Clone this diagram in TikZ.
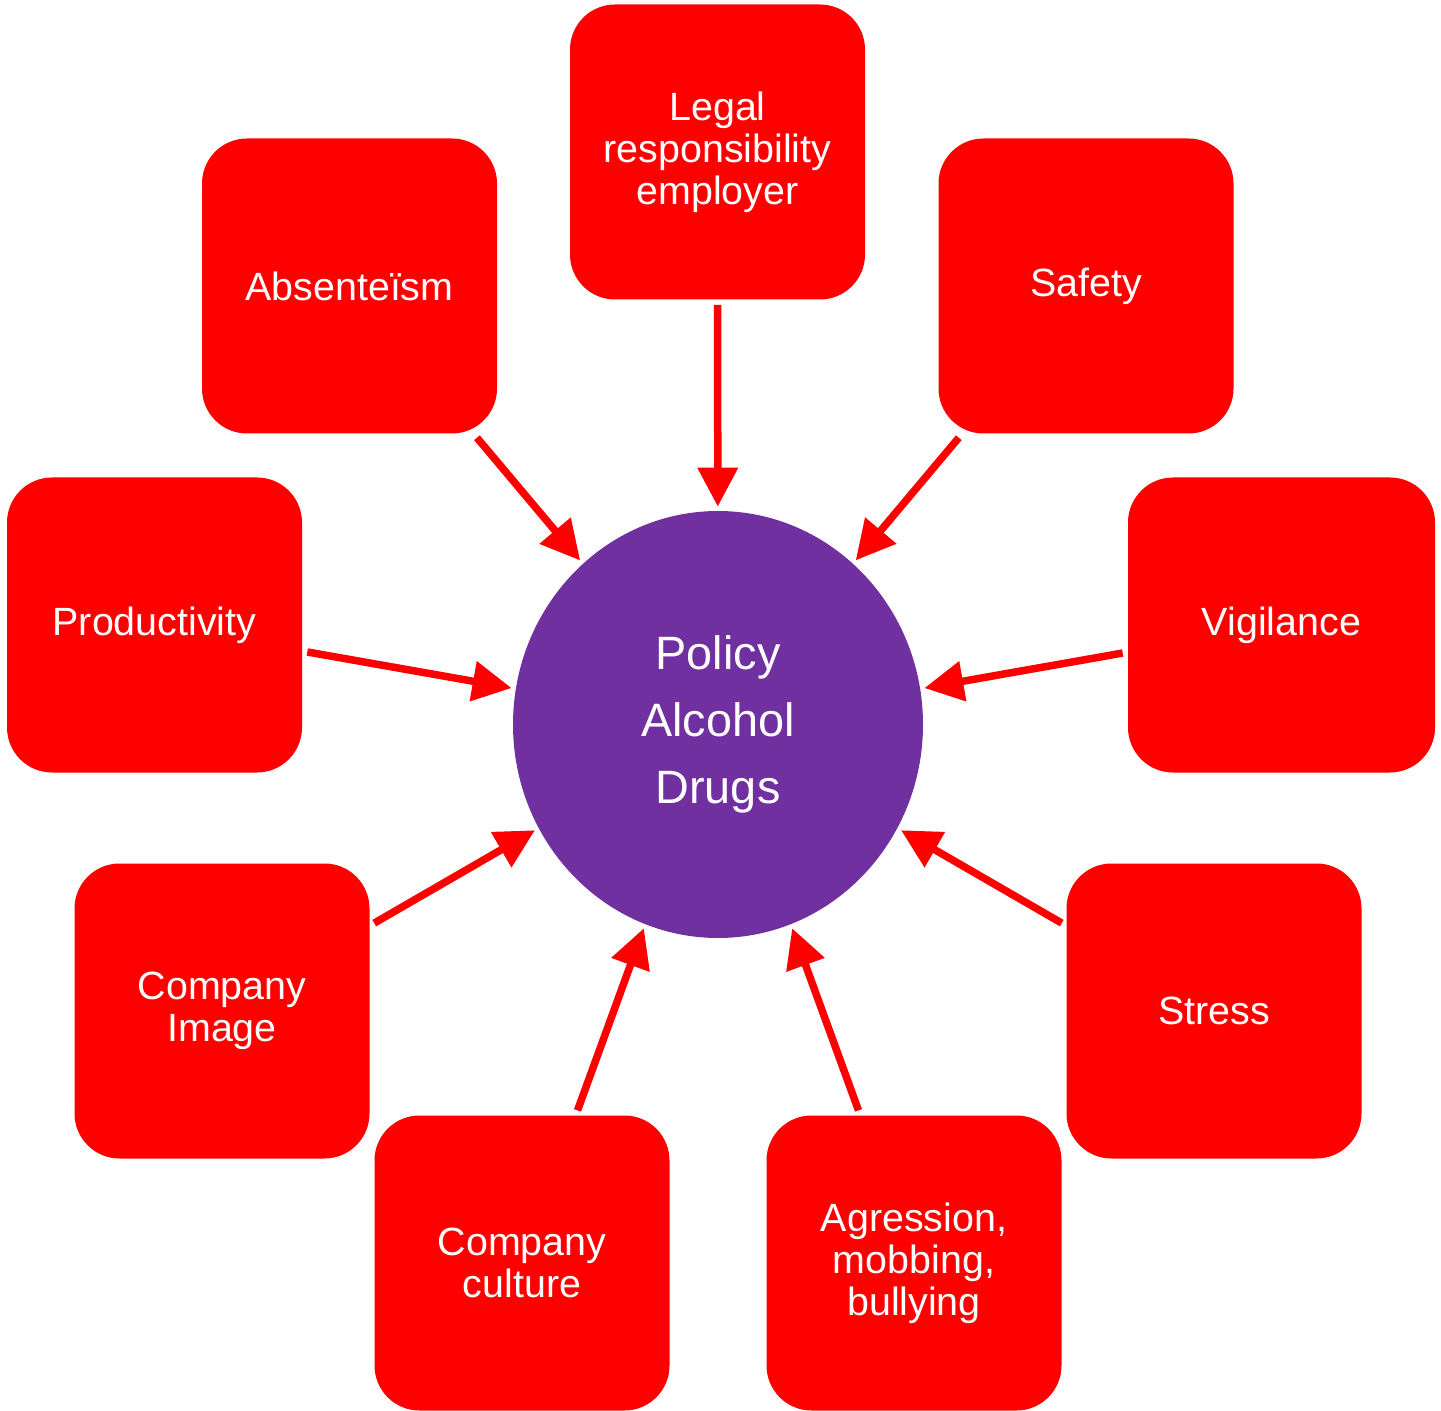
\documentclass[tikz,border=0pt]{standalone}
\usepackage{fontspec}
\setmainfont{Liberation Sans}
\usetikzlibrary{arrows.meta,shapes.geometric}
\definecolor{boxred}{HTML}{FF0000}
\definecolor{hubpurple}{HTML}{7030A0}
\begin{document}
\begin{tikzpicture}[x=0.5pt,y=-0.5pt,
  factor/.style={fill=boxred, rounded corners=22.5pt, minimum width=147.5pt,
    minimum height=147.5pt, inner sep=0pt, text=white, align=center,
    font=\fontsize{19.7}{21}\selectfont},
  hub/.style={ellipse, fill=hubpurple, minimum width=205pt, minimum height=213.5pt,
    inner sep=0pt, text=white, align=center, font=\fontsize{23.4}{33.5}\selectfont},
  link/.style={draw=boxred, line width=3.75pt,
    -{Triangle[length=19.5pt,width=19.5pt,fill=boxred]},
    shorten <=2.5pt, shorten >=2pt}]
\useasboundingbox (0,0) rectangle (1441,1411);

% central topic
\node[hub] (hub) at (718,724.5) {Policy\\Alcohol\\Drugs};

% surrounding factors
\node[factor] (legal)   at (717.5,152)  {Legal\\responsibility\\employer};
\node[factor] (absent)  at (349.5,286)  {Absenteïsm};
\node[factor] (safety)  at (1086,286)   {Safety};
\node[factor] (product) at (154.5,625)  {Productivity};
\node[factor, minimum width=153.5pt] (vigil) at (1281.5,625) {Vigilance};
\node[factor] (image)   at (222,1011)   {Company\\Image};
\node[factor] (stress)  at (1214,1011)  {Stress};
\node[factor] (culture) at (522,1263)   {Company\\culture};
\node[factor] (aggr)    at (914,1263)   {Agression,\\mobbing,\\bullying};

% influences pointing at the policy
\foreach \f in {legal,absent,safety,product,vigil,image,stress,culture,aggr}
  \draw[link] (\f) -- (hub);
\end{tikzpicture}
\end{document}
